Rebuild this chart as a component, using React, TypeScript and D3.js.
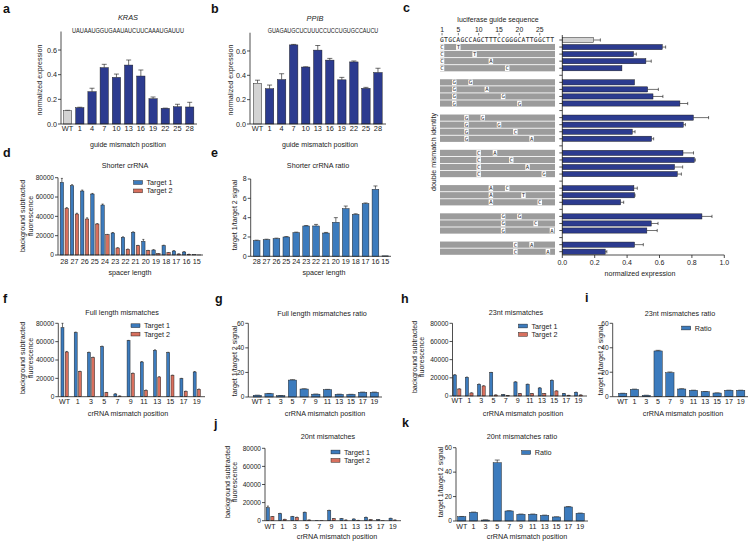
import React from "react";
import * as d3 from "d3";

const FONT = "'Liberation Sans', Arial, Helvetica, sans-serif";
const MONO = "'DejaVu Sans Mono', 'Liberation Mono', monospace";
const NAVY = "#2c3b8f";
const LIGHT = "#d3d3d3";
const BLUE = "#3c7bbd";
const RED = "#d8705e";
const INK = "#222";

// ---------- panel a / b ----------
const abCats = ["WT", "1", "4", "7", "10", "13", "16", "19", "22", "25", "28"];
const aVals = [0.108, 0.132, 0.262, 0.457, 0.378, 0.478, 0.389, 0.205, 0.127, 0.14, 0.138];
const aErr = [0.003, 0.004, 0.028, 0.027, 0.027, 0.041, 0.049, 0.014, 0.002, 0.02, 0.038];
const bVals = [0.335, 0.29, 0.365, 0.65, 0.468, 0.607, 0.525, 0.363, 0.51, 0.293, 0.423];
const bErr = [0.025, 0.03, 0.048, 0.004, 0.002, 0.038, 0.014, 0.02, 0.008, 0.008, 0.035];
const abTicks = [0, 0.2, 0.4, 0.6];
const aSeq = "UAUAAUGGUGAAUAUCUUCAAAUGAUUU";
const bSeq = "GUAGAUGCUCUUUCCUCCUGUGCCAUCU";

// ---------- panel c ----------
const cSeq = "GTGCAGCCAGCTTTCCGGGCATTGGCTT";
const cSeqTicks = [1, 5, 10, 15, 20, 25];
const cWTVal = 0.193;
const cWTErr = 0.042;
const cFirstPos = [0, 3, 6, 9, 12, 15, 18];
const cFirstBase = ["C", "G", "G", "C", "A", "G", "C"];
const cSecondPos = [[4, 8, 12, 16], [7, 11, 15, 19], [10, 14, 18, 22], [13, 17, 21, 25], [16, 20, 24], [19, 23, 27], [22, 26]];
const cSecondBase = [["T", "T", "A", "C"], ["G", "A", "G", "G"], ["G", "G", "C", "A"], ["A", "C", "A", "G"], ["C", "T", "C"], ["G", "C", "A"], ["A", "A"]];
const cVals = [[0.617, 0.44, 0.516, 0.368], [0.446, 0.527, 0.56, 0.726], [0.809, 0.747, 0.432, 0.551], [0.745, 0.815, 0.693, 0.71], [0.442, 0.446, 0.36], [0.862, 0.549, 0.522], [0.446, 0.265]];
const cErrs = [[0.021, 0.017, 0.033, 0], [0, 0.066, 0.061, 0.048], [0.094, 0.013, 0.017, 0.013], [0.065, 0.006, 0.05, 0.025], [0.021, 0.003, 0.019], [0.062, 0.042, 0.064], [0.054, 0.01]];
const cTicks = [0, 0.2, 0.4, 0.6, 0.8, 1.0];

// ---------- panel d / e ----------
const deCats = ["28", "27", "26", "25", "24", "23", "22", "21", "20", "19", "18", "17", "16", "15"];
const dT1 = [75170, 71724, 66207, 63103, 51724, 22759, 18276, 23448, 14138, 5172, 9655, 4138, 3103, 300];
const dT1Err = [4100, 1000, 1000, 600, 1000, 500, 500, 500, 2000, 300, 500, 300, 300, 0];
const dT2 = [48276, 42414, 37241, 32069, 21034, 7241, 5862, 9655, 4483, 1379, 2414, 1034, 690, 100];
const dT2Err = [800, 800, 1200, 400, 300, 300, 300, 300, 300, 100, 100, 100, 100, 0];
const eVals = [1.62, 1.72, 1.83, 2.0, 2.45, 3.14, 3.14, 2.41, 3.52, 4.93, 4.34, 5.45, 6.93, 0.05];
const eErr = [0.05, 0.05, 0.05, 0.04, 0.05, 0.04, 0.16, 0.06, 0.48, 0.27, 0.06, 0.07, 0.35, 0];

// ---------- mismatch panels f-k ----------
const mmCats = ["WT", "1", "3", "5", "7", "9", "11", "13", "15", "17", "19"];
const fT1 = [75273, 69818, 48000, 54545, 2909, 61091, 37818, 50545, 48000, 19636, 26909];
const fT1Err = [4700, 600, 500, 500, 300, 300, 400, 500, 400, 400, 500];
const fT2 = [48727, 27273, 42545, 4364, 727, 25455, 6909, 21455, 23273, 5818, 8000];
const fT2Err = [600, 400, 500, 300, 100, 300, 300, 300, 300, 300, 300];
const gVals = [1.4, 2.7, 1.1, 13.8, 6.5, 2.3, 6.0, 2.2, 2.1, 3.8, 3.8];
const gErr = [0.1, 0.2, 0.1, 0.3, 0.2, 0.1, 0.2, 0.1, 0.1, 0.2, 0.2];
const hT1 = [23119, 20550, 12844, 25688, 1468, 15413, 12844, 8807, 17248, 2569, 4037];
const hT1Err = [300, 300, 300, 300, 100, 300, 300, 300, 300, 100, 200];
const hT2 = [7706, 3303, 11009, 1101, 300, 2569, 2569, 2569, 5505, 734, 1100];
const hT2Err = [200, 200, 300, 100, 50, 100, 100, 100, 200, 50, 100];
const iVals = [2.7, 6.0, 1.1, 37.4, 19.6, 6.3, 5.2, 4.1, 3.0, 5.2, 5.2];
const iErr = [0.1, 0.2, 0.1, 0.5, 0.6, 0.2, 0.1, 0.1, 0.1, 0.1, 0.1];
const jT1 = [14378, 7742, 4424, 9217, 369, 11060, 2212, 1843, 3687, 1106, 2580];
const jT1Err = [1800, 400, 300, 300, 0, 500, 200, 100, 200, 100, 200];
const jT2 = [4424, 1475, 3687, 737, 300, 2212, 737, 369, 1106, 300, 737];
const jT2Err = [200, 100, 200, 50, 0, 100, 50, 50, 50, 0, 50];
const kVals = [3.5, 7.1, 0.8, 47.7, 8.2, 5.5, 5.5, 4.6, 3.3, 11.5, 6.3];
const kErr = [0.2, 0.2, 0.1, 2.2, 0.2, 0.2, 0.2, 0.2, 0.1, 0.3, 0.2];

const fluorTicks = [0, 20000, 40000, 60000, 80000];
const ratioTicks = [0, 20, 40, 60];
const eTicks = [0, 2, 4, 6, 8];

type Series = { values: number[]; errors?: number[]; color: string | string[] };

function VBarPanel(p: {
  cats: string[]; series: Series[]; axisX: number; range: [number, number]; axisEnd: number;
  bottom: number; top: number; max: number; ticks: number[]; fmt: (v: number) => string;
  pad: number; innerPad?: number; labelDy?: number; fs?: number; tfs?: number;
}) {
  const { cats, series, axisX, range, axisEnd, bottom, top, max, ticks, fmt, pad } = p;
  const innerPad = p.innerPad ?? 0.3;
  const labelDy = p.labelDy ?? 7.5;
  const fs = p.fs ?? 7;
  const tfs = p.tfs ?? 6.6;
  const x = d3.scaleBand<string>().domain(cats).range(range).paddingInner(pad).paddingOuter(pad / 2);
  const y = d3.scaleLinear().domain([0, max]).range([bottom, top]);
  const inner = d3.scaleBand<string>().domain(series.map((_, i) => String(i))).range([0, x.bandwidth()])
    .paddingInner(series.length > 1 ? innerPad : 0);
  const bw = inner.bandwidth();
  const cap = Math.max(2, bw * 0.6);
  return (
    <g>
      {series.map((s, si) =>
        s.values.map((v, i) => {
          const bx = (x(cats[i]) ?? 0) + (inner(String(si)) ?? 0);
          const col = Array.isArray(s.color) ? s.color[i] : s.color;
          const e = s.errors ? s.errors[i] : 0;
          const cx = bx + bw / 2;
          return (
            <g key={`${si}-${i}`}>
              {e > 0 && (
                <g stroke="#111" strokeWidth={0.6}>
                  <line x1={cx} x2={cx} y1={y(v)} y2={y(v + e)} />
                  <line x1={cx - cap / 2} x2={cx + cap / 2} y1={y(v + e)} y2={y(v + e)} />
                </g>
              )}
              <rect x={bx} y={y(v)} width={bw} height={Math.max(0, bottom - y(v))} fill={col} stroke="#1a1a1a" strokeWidth={0.45} />
            </g>
          );
        })
      )}
      <line x1={axisX} x2={axisX} y1={bottom} y2={y(max)} stroke={INK} strokeWidth={0.8} />
      <line x1={axisX} x2={axisEnd} y1={bottom} y2={bottom} stroke={INK} strokeWidth={0.8} />
      {ticks.map((t) => (
        <g key={t}>
          <line x1={axisX - 3} x2={axisX} y1={y(t)} y2={y(t)} stroke={INK} strokeWidth={0.8} />
          <text x={axisX - 4} y={y(t)} dy="0.35em" textAnchor="end" fontSize={tfs} fill={INK}>{fmt(t)}</text>
        </g>
      ))}
      {cats.map((c) => (
        <text key={c} x={(x(c) ?? 0) + x.bandwidth() / 2} y={bottom + labelDy} textAnchor="middle" fontSize={fs} fill={INK}>{c}</text>
      ))}
    </g>
  );
}

function RotLabel({ x, y, text, fs = 7.1 }: { x: number; y: number; text: string; fs?: number }) {
  return (
    <text transform={`translate(${x},${y}) rotate(-90)`} textAnchor="middle" fontSize={fs} fill={INK}>{text}</text>
  );
}

function Legend({ x, y, items, fs = 7.2 }: { x: number; y: number; items: { label: string; color: string }[]; fs?: number }) {
  return (
    <g>
      {items.map((it, i) => (
        <g key={it.label} transform={`translate(${x},${y + i * 8.4})`}>
          <rect x={0} y={-1.9} width={9} height={3.8} fill={it.color} stroke="#1a1a1a" strokeWidth={0.45} />
          <text x={13} y={0} dy="0.35em" fontSize={fs} fill={INK}>{it.label}</text>
        </g>
      ))}
    </g>
  );
}

function PanelLetter({ x, y, t }: { x: number; y: number; t: string }) {
  return <text x={x} y={y} fontSize={12.5} fontWeight="bold" fill="#111">{t}</text>;
}

function PanelC() {
  type Row = { kind: "wt" } | { kind: "gap" } | { kind: "row"; g: number; r: number };
  const rows: Row[] = [{ kind: "wt" }];
  cSecondPos.forEach((grp, g) => {
    if (g > 0) rows.push({ kind: "gap" });
    grp.forEach((_, r) => rows.push({ kind: "row", g, r }));
  });
  const y = d3.scalePoint<string>().domain(rows.map((_, i) => String(i))).range([40, 251.7]);
  const x = d3.scaleLinear().domain([0, 1]).range([562.3, 724.3]);
  const sx = d3.scaleBand<string>().domain(d3.range(cSeq.length).map(String)).range([440, 554]);
  const cw = sx.bandwidth();
  const bh = 5.2;
  const axisBottom = 255;
  return (
    <g>
      <text x={498} y={22} textAnchor="middle" fontSize={7} fill={INK}>luciferase guide sequence</text>
      {cSeqTicks.map((n) => {
        const cx = (sx(String(n - 1)) ?? 0) + cw / 2;
        return (
          <g key={n}>
            <text x={cx} y={31.5} textAnchor="middle" fontSize={6.8} fill={INK}>{n}</text>
            <line x1={cx} x2={cx} y1={33} y2={35.3} stroke={INK} strokeWidth={0.6} />
          </g>
        );
      })}
      <text x={440} y={42.3} fontFamily={MONO} fontSize={6.4} textLength={114} lengthAdjust="spacing" fill={INK}>{cSeq}</text>
      {rows.map((row, i) => {
        const yc = y(String(i)) ?? 0;
        if (row.kind !== "row") return null;
        const letters: { pos: number; base: string }[] = [
          { pos: cFirstPos[row.g], base: cFirstBase[row.g] },
          { pos: cSecondPos[row.g][row.r], base: cSecondBase[row.g][row.r] },
        ];
        return (
          <g key={i}>
            <rect x={440} y={yc - 3.1} width={115} height={6.2} fill="#9c9c9c" />
            {letters.map((l) => {
              const lx = (sx(String(l.pos)) ?? 0);
              return (
                <g key={l.pos}>
                  <rect x={lx - 0.2} y={yc - 2.8} width={cw + 0.4} height={5.6} fill="#fff" />
                  <text x={lx + cw / 2} y={yc} dy="0.36em" textAnchor="middle" fontFamily={MONO} fontSize={5.6} fill="#333">{l.base}</text>
                </g>
              );
            })}
          </g>
        );
      })}
      {rows.map((row, i) => {
        const yc = y(String(i)) ?? 0;
        let v = 0, e = 0, col = NAVY;
        if (row.kind === "wt") { v = cWTVal; e = cWTErr; col = LIGHT; }
        else if (row.kind === "row") { v = cVals[row.g][row.r]; e = cErrs[row.g][row.r]; }
        return (
          <g key={"b" + i}>
            <line x1={x(0) - 3} x2={x(0)} y1={yc} y2={yc} stroke={INK} strokeWidth={0.8} />
            {row.kind !== "gap" && (
              <g>
                {e > 0 && (
                  <g stroke="#111" strokeWidth={0.6}>
                    <line x1={x(v)} x2={x(v + e)} y1={yc} y2={yc} />
                    <line x1={x(v + e)} x2={x(v + e)} y1={yc - 1.6} y2={yc + 1.6} />
                  </g>
                )}
                <rect x={x(0)} y={yc - bh / 2} width={x(v) - x(0)} height={bh} fill={col} stroke="#1a1a1a" strokeWidth={0.45} />
              </g>
            )}
          </g>
        );
      })}
      <line x1={x(0)} x2={x(0)} y1={35} y2={axisBottom} stroke={INK} strokeWidth={0.8} />
      <line x1={x(0)} x2={x(1)} y1={axisBottom} y2={axisBottom} stroke={INK} strokeWidth={0.8} />
      {cTicks.map((t) => (
        <g key={t}>
          <line x1={x(t)} x2={x(t)} y1={axisBottom} y2={axisBottom + 3} stroke={INK} strokeWidth={0.8} />
          <text x={x(t)} y={axisBottom + 9.5} textAnchor="middle" fontSize={7} fill={INK}>{t.toFixed(1)}</text>
        </g>
      ))}
      <text x={640} y={275.5} textAnchor="middle" fontSize={7.1} fill={INK}>normalized expression</text>
      <RotLabel x={435.5} y={152} text="double mismatch identity" fs={7.1} />
    </g>
  );
}

export default function App() {
  const f1 = d3.format(".1f");
  const f0 = (v: number) => String(v);
  const abColors = abCats.map((_, i) => (i === 0 ? LIGHT : NAVY));
  const legend2 = [{ label: "Target 1", color: BLUE }, { label: "Target 2", color: RED }];
  const legendR = [{ label: "Ratio", color: BLUE }];
  return (
    <div style={{ position: "absolute", left: 0, top: 0 }}>
      <svg width={750} height={543} viewBox="0 0 750 543" fontFamily={FONT} style={{ display: "block", background: "#fff" }}>
        {/* a */}
        <PanelLetter x={3} y={12.5} t="a" />
        <text x={128} y={20} textAnchor="middle" fontSize={7.4} fontStyle="italic" fill={INK}>KRAS</text>
        <text x={72} y={33.3} fontSize={6.5} textLength={112} lengthAdjust="spacingAndGlyphs" fill={INK}>{aSeq}</text>
        <VBarPanel cats={abCats} series={[{ values: aVals, errors: aErr, color: abColors }]} axisX={61} range={[61.5, 195.8]}
          axisEnd={197} bottom={124} top={124 - 0.75 * 123.3} max={0.75} ticks={abTicks} fmt={f1} pad={0.32} labelDy={6.7} fs={7.4} tfs={7.2} />
        <RotLabel x={42} y={80} text="normalized expression" />
        <text x={128} y={146.5} textAnchor="middle" fontSize={7.1} fill={INK}>guide mismatch position</text>

        {/* b */}
        <PanelLetter x={211} y={12.5} t="b" />
        <text x={315} y={21} textAnchor="middle" fontSize={7.4} fontStyle="italic" fill={INK}>PPIB</text>
        <text x={267.7} y={33.3} fontSize={6.5} textLength={110.6} lengthAdjust="spacingAndGlyphs" fill={INK}>{bSeq}</text>
        <VBarPanel cats={abCats} series={[{ values: bVals, errors: bErr, color: abColors }]} axisX={250} range={[251.5, 384]}
          axisEnd={386} bottom={124} top={124 - 0.75 * 121.7} max={0.75} ticks={abTicks} fmt={f1} pad={0.3} labelDy={6.7} fs={7.4} tfs={7.2} />
        <RotLabel x={233} y={80} text="normalized expression" />
        <text x={320} y={146.5} textAnchor="middle" fontSize={7.1} fill={INK}>guide mismatch position</text>

        {/* c */}
        <PanelLetter x={403} y={12} t="c" />
        <PanelC />

        {/* d */}
        <PanelLetter x={3} y={157} t="d" />
        <text x={125} y={168.3} textAnchor="middle" fontSize={7.2} fill={INK}>Shorter crRNA</text>
        <VBarPanel cats={deCats} series={[{ values: dT1, errors: dT1Err, color: BLUE }, { values: dT2, errors: dT2Err, color: RED }]}
          axisX={58} range={[59.2, 201.8]} axisEnd={203} bottom={255} top={177.7} max={80000} ticks={fluorTicks} fmt={f0} pad={0.19} innerPad={0.3} labelDy={8.8} fs={7.2} />
        <Legend x={133.5} y={182.5} items={legend2} />
        <RotLabel x={25} y={216} text="background subtracted" />
        <RotLabel x={33} y={216} text="fluorescence" />
        <text x={130} y={274.5} textAnchor="middle" fontSize={7.2} fill={INK}>spacer length</text>

        {/* e */}
        <PanelLetter x={211} y={157} t="e" />
        <text x={318} y={168.3} textAnchor="middle" fontSize={7.2} fill={INK}>Shorter crRNA ratio</text>
        <VBarPanel cats={deCats} series={[{ values: eVals, errors: eErr, color: BLUE }]}
          axisX={250.7} range={[251.7, 390.3]} axisEnd={391} bottom={256.3} top={179} max={8} ticks={eTicks} fmt={f0} pad={0.32} labelDy={7.5} fs={7.2} tfs={7} />
        <RotLabel x={237} y={215} text="target 1/target 2 signal" />
        <text x={324} y={275} textAnchor="middle" fontSize={7.2} fill={INK}>spacer length</text>

        {/* f */}
        <PanelLetter x={3} y={303} t="f" />
        <text x={122} y={315} textAnchor="middle" fontSize={7.2} fill={INK}>Full length mismatches</text>
        <VBarPanel cats={mmCats} series={[{ values: fT1, errors: fT1Err, color: BLUE }, { values: fT2, errors: fT2Err, color: RED }]}
          axisX={58.3} range={[58, 203.4]} axisEnd={205} bottom={396.7} top={323.3} max={80000} ticks={fluorTicks} fmt={f0} pad={0.45} innerPad={0.3} labelDy={6.8} fs={7.1} />
        <Legend x={131} y={325.7} items={legend2} />
        <RotLabel x={25} y={358} text="background subtracted" />
        <RotLabel x={33} y={358} text="fluorescence" />
        <text x={128} y={415.5} textAnchor="middle" fontSize={7.2} fill={INK}>crRNA mismatch position</text>

        {/* g */}
        <PanelLetter x={215} y={303} t="g" />
        <text x={322} y={315.5} textAnchor="middle" fontSize={7.2} fill={INK}>Full length mismatches ratio</text>
        <VBarPanel cats={mmCats} series={[{ values: gVals, errors: gErr, color: BLUE }]}
          axisX={248.3} range={[251.5, 380.2]} axisEnd={382} bottom={397} top={323.3} max={60} ticks={ratioTicks} fmt={f0} pad={0.29} labelDy={6.8} fs={7.1} />
        <RotLabel x={236.5} y={361} text="target 1/target 2 signal" />
        <text x={325} y={415.5} textAnchor="middle" fontSize={7.2} fill={INK}>crRNA mismatch position</text>

        {/* h */}
        <PanelLetter x={401} y={303} t="h" />
        <text x={516} y={315} textAnchor="middle" fontSize={7.2} fill={INK}>23nt mismatches</text>
        <VBarPanel cats={mmCats} series={[{ values: hT1, errors: hT1Err, color: BLUE }, { values: hT2, errors: hT2Err, color: RED }]}
          axisX={452.5} range={[451, 584.5]} axisEnd={587} bottom={396} top={323.3} max={80000} ticks={fluorTicks} fmt={f0} pad={0.36} innerPad={0.3} labelDy={7} fs={7.1} />
        <Legend x={518.5} y={326} items={legend2} />
        <RotLabel x={416.5} y={357} text="background subtracted" />
        <RotLabel x={423.5} y={357} text="fluorescence" />
        <text x={523} y={415.5} textAnchor="middle" fontSize={7.2} fill={INK}>crRNA mismatch position</text>

        {/* i */}
        <PanelLetter x={585} y={302} t="i" />
        <text x={680} y={316} textAnchor="middle" fontSize={7.2} fill={INK}>23nt mismatches ratio</text>
        <VBarPanel cats={mmCats} series={[{ values: iVals, errors: iErr, color: BLUE }]}
          axisX={612.7} range={[616.8, 746.6]} axisEnd={748} bottom={396.7} top={323.3} max={60} ticks={ratioTicks} fmt={f0} pad={0.3} labelDy={6.8} fs={7.1} />
        <Legend x={681.7} y={328} items={legendR} />
        <RotLabel x={603} y={360} text="target 1/target 2 signal" />
        <text x={683} y={415.5} textAnchor="middle" fontSize={7.2} fill={INK}>crRNA mismatch position</text>

        {/* j */}
        <PanelLetter x={214} y={428} t="j" />
        <text x={328} y={438.5} textAnchor="middle" fontSize={7.2} fill={INK}>20nt mismatches</text>
        <VBarPanel cats={mmCats} series={[{ values: jT1, errors: jT1Err, color: BLUE }, { values: jT2, errors: jT2Err, color: RED }]}
          axisX={265} range={[264, 399]} axisEnd={401} bottom={520.7} top={448.3} max={80000} ticks={fluorTicks} fmt={f0} pad={0.37} innerPad={0.3} labelDy={8.3} fs={7.1} />
        <Legend x={331} y={452} items={legend2} />
        <RotLabel x={230} y={482} text="background subtracted" />
        <RotLabel x={236.8} y={482} text="fluorescence" />
        <text x={337} y={539} textAnchor="middle" fontSize={7.2} fill={INK}>crRNA mismatch position</text>

        {/* k */}
        <PanelLetter x={402} y={427} t="k" />
        <text x={522} y={439} textAnchor="middle" fontSize={7.2} fill={INK}>20nt mismatches ratio</text>
        <VBarPanel cats={mmCats} series={[{ values: kVals, errors: kErr, color: BLUE }]}
          axisX={456} range={[455.8, 586.1]} axisEnd={588} bottom={521} top={447.7} max={60} ticks={ratioTicks} fmt={f0} pad={0.3} labelDy={8} fs={7.1} />
        <Legend x={521.7} y={452.5} items={legendR} />
        <RotLabel x={443} y={482} text="target 1/target 2 signal" />
        <text x={527} y={539} textAnchor="middle" fontSize={7.2} fill={INK}>crRNA mismatch position</text>
      </svg>
    </div>
  );
}
